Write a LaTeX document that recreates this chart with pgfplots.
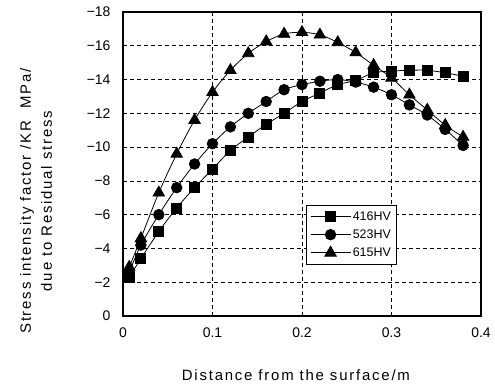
\documentclass[border=0pt]{standalone}
\usepackage{fontspec}
\setmainfont{Liberation Sans}
\newfontfamily\spaced[LetterSpace=12]{Liberation Sans}
\usepackage{pgfplots}
\pgfplotsset{compat=1.18}
\begin{document}
\begin{tikzpicture}
\useasboundingbox (-123bp,-69bp) rectangle (372bp,316bp);
\begin{axis}[
  scale only axis,
  width=358bp, height=304bp,
  at={(0,0)}, anchor=south west,
  xmin=0, xmax=0.4, ymin=-18, ymax=0,
  y dir=reverse,
  xtick={0,0.1,0.2,0.3,0.4},
  xticklabels={0,0.1,0.2,0.3,0.4},
  ytick={-18,-16,-14,-12,-10,-8,-6,-4,-2,0},
  yticklabels={−18,−16,−14,−12,−10,−8,−6,−4,−2,0},
  tick label style={font=\fontsize{14}{16}\selectfont},
  xticklabel style={yshift=-8bp},
  yticklabel style={xshift=-9bp},
  major tick length=0pt,
  axis line style={line width=1.2pt},
  grid=major,
  major grid style={black, line width=0.6pt, dash pattern=on 4pt off 3pt},
  xlabel={Distance from the surface/m},
  xlabel style={at={(axis description cs:0.483,-0.194)}, anchor=center, font=\spaced\fontsize{15}{17}\selectfont},
  ylabel={Stress intensity factor /KR\ \ MPa/\\due to Residual stress},
  ylabel style={at={(axis description cs:-0.243,0.378)}, anchor=center, align=center, font=\spaced\fontsize{15}{21}\selectfont},
  legend style={at={(0.511,0.365)}, anchor=north west, draw=black, line width=0.8pt, font=\fontsize{12.5}{14}\selectfont, row sep=4pt, inner xsep=4pt, inner ysep=4pt, cells={anchor=west}},
  legend image code/.code={\draw[mark repeat=2,mark phase=2,#1] plot coordinates {(0cm,0cm) (0.7cm,0cm) (1.4cm,0cm)};},
]
\addplot[black, line width=0.8pt, smooth, mark=square*, mark size=5bp, mark options={solid}] coordinates {
(0.007,-2.3) (0.02,-3.4) (0.04,-5.0) (0.06,-6.4) (0.08,-7.6) (0.10,-8.7) (0.12,-9.8) (0.14,-10.6) (0.16,-11.35) (0.18,-12.0) (0.20,-12.7) (0.22,-13.2) (0.24,-13.7) (0.26,-13.95) (0.28,-14.4) (0.30,-14.5) (0.32,-14.55) (0.34,-14.55) (0.36,-14.4) (0.38,-14.2)};
\addlegendentry{416HV}
\addplot[black, line width=0.8pt, smooth, mark=*, mark size=5.3bp] coordinates {
(0.007,-2.6) (0.02,-4.2) (0.04,-6.0) (0.06,-7.6) (0.08,-9.0) (0.10,-10.2) (0.12,-11.2) (0.14,-12.0) (0.16,-12.7) (0.18,-13.4) (0.20,-13.7) (0.22,-13.9) (0.24,-14.0) (0.26,-13.85) (0.28,-13.55) (0.30,-13.1) (0.32,-12.5) (0.34,-11.9) (0.36,-11.05) (0.38,-10.1)};
\addlegendentry{523HV}
\addplot[black, line width=0.8pt, smooth, mark=triangle*, mark size=6.6bp] coordinates {
(0.007,-2.9) (0.02,-4.6) (0.04,-7.3) (0.06,-9.6) (0.08,-11.6) (0.10,-13.25) (0.12,-14.55) (0.14,-15.55) (0.16,-16.25) (0.18,-16.7) (0.20,-16.8) (0.22,-16.65) (0.24,-16.2) (0.26,-15.6) (0.28,-14.85) (0.30,-14.1) (0.32,-13.1) (0.34,-12.2) (0.36,-11.3) (0.38,-10.6)};
\addlegendentry{615HV}
\end{axis}
\end{tikzpicture}
\end{document}
